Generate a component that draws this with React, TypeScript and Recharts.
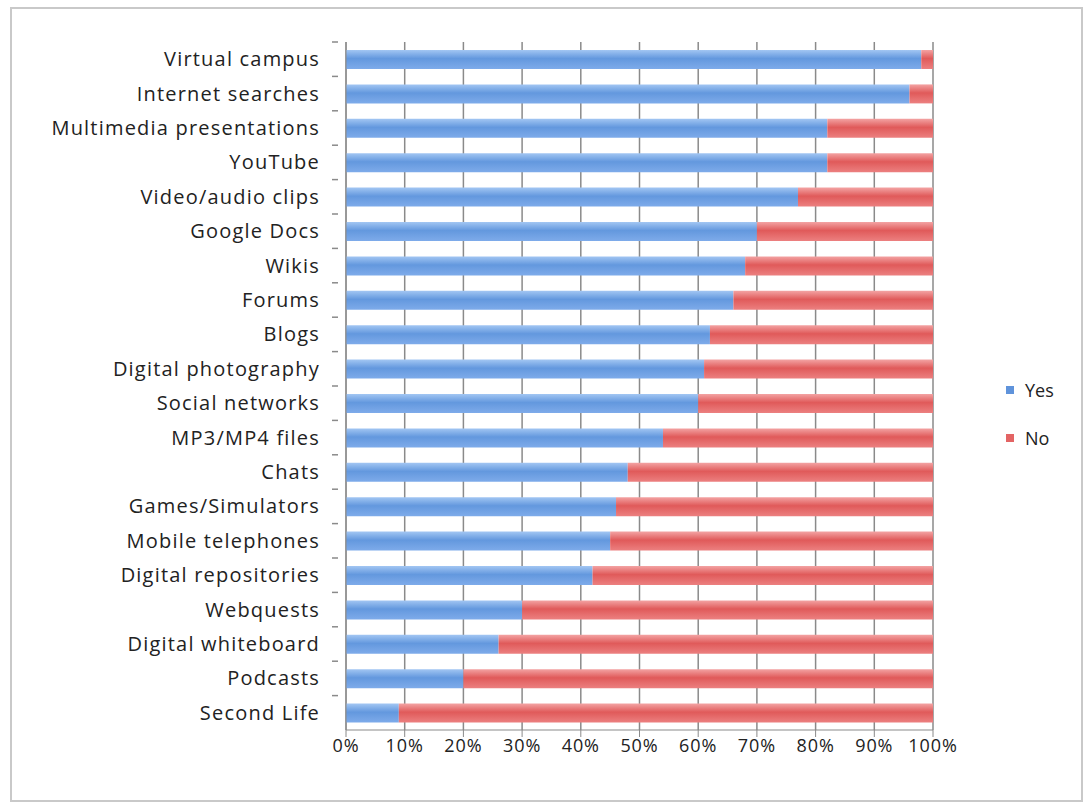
import React from 'react';
import { BarChart, Bar, XAxis, YAxis, CartesianGrid } from 'recharts';

const categories = [
  'Virtual campus', 'Internet searches', 'Multimedia presentations', 'YouTube',
  'Video/audio clips', 'Google Docs', 'Wikis', 'Forums', 'Blogs',
  'Digital photography', 'Social networks', 'MP3/MP4 files', 'Chats',
  'Games/Simulators', 'Mobile telephones', 'Digital repositories', 'Webquests',
  'Digital whiteboard', 'Podcasts', 'Second Life',
];
const yesValues = [98, 96, 82, 82, 77, 70, 68, 66, 62, 61, 60, 54, 48, 46, 45, 42, 30, 26, 20, 9];
const noValues = yesValues.map((v) => 100 - v);
const xTicks = [0, 10, 20, 30, 40, 50, 60, 70, 80, 90, 100];
const seriesNames = ['Yes', 'No'];
const seriesColors = ['#5f93db', '#e36464'];

const data = categories.map((name, i) => ({ name, Yes: yesValues[i], No: noValues[i] }));

const FONT = '"Open Sans", sans-serif';
const AXIS = '#8a8a8a';

function CategoryTick(props: any) {
  const { x, y, payload } = props;
  const half = 688 / categories.length / 2;
  return (
    <g>
      <line x1={x - 6} x2={x} y1={y - half} y2={y - half} stroke={AXIS} strokeWidth={1.5} />
      <text
        x={x - 18}
        y={y}
        dy={7}
        textAnchor="end"
        fontSize={20}
        letterSpacing={1.2}
        fill="#222"
        fontFamily={FONT}
      >
        {payload.value}
      </text>
    </g>
  );
}

export default function App() {
  return (
    <div style={{ position: 'absolute', left: 0, top: 0, width: 1089, height: 810, background: '#fff' }}>
      <div
        style={{
          position: 'absolute', left: 10, top: 7, width: 1073, height: 795,
          border: '2px solid #c9c9c9', boxSizing: 'border-box',
        }}
      />
      <div style={{ position: 'absolute', left: 0, top: 0 }}>
        <BarChart
          width={1089}
          height={810}
          data={data}
          layout="vertical"
          barSize={19}
          margin={{ top: 42, right: 156, bottom: 50, left: 0 }}
        >
          <defs>
            <linearGradient id="gYes" x1="0" y1="0" x2="0" y2="1">
              <stop offset="0%" stopColor="#a2c6f3" />
              <stop offset="45%" stopColor="#6398de" />
              <stop offset="100%" stopColor="#7eabea" />
            </linearGradient>
            <linearGradient id="gNo" x1="0" y1="0" x2="0" y2="1">
              <stop offset="0%" stopColor="#f3a3a3" />
              <stop offset="45%" stopColor="#e05a5a" />
              <stop offset="100%" stopColor="#ec8080" />
            </linearGradient>
          </defs>
          <CartesianGrid horizontal={false} stroke={AXIS} strokeWidth={1.5} />
          <XAxis
            type="number"
            domain={[0, 100]}
            ticks={xTicks}
            interval={0}
            tickFormatter={(v) => `${v}%`}
            height={30}
            stroke={AXIS}
            tickSize={7}
            tick={{ fontSize: 18, fill: '#222', fontFamily: FONT, letterSpacing: 0.9 }}
          />
          <YAxis
            type="category"
            dataKey="name"
            width={346}
            stroke={AXIS}
            tickLine={false}
            tick={<CategoryTick />}
            interval={0}
          />
          <Bar dataKey="Yes" stackId="a" fill="url(#gYes)" isAnimationActive={false} />
          <Bar dataKey="No" stackId="a" fill="url(#gNo)" isAnimationActive={false} />
        </BarChart>
      </div>
      <div style={{ position: 'absolute', left: 1006, top: 366, fontFamily: FONT, fontSize: 18, color: '#222' }}>
        {seriesNames.map((label, i) => (
          <div key={label} style={{ display: 'flex', alignItems: 'center', height: 48 }}>
            <span style={{ width: 8, height: 8, background: seriesColors[i], marginRight: 11 }} />
            {label}
          </div>
        ))}
      </div>
    </div>
  );
}
